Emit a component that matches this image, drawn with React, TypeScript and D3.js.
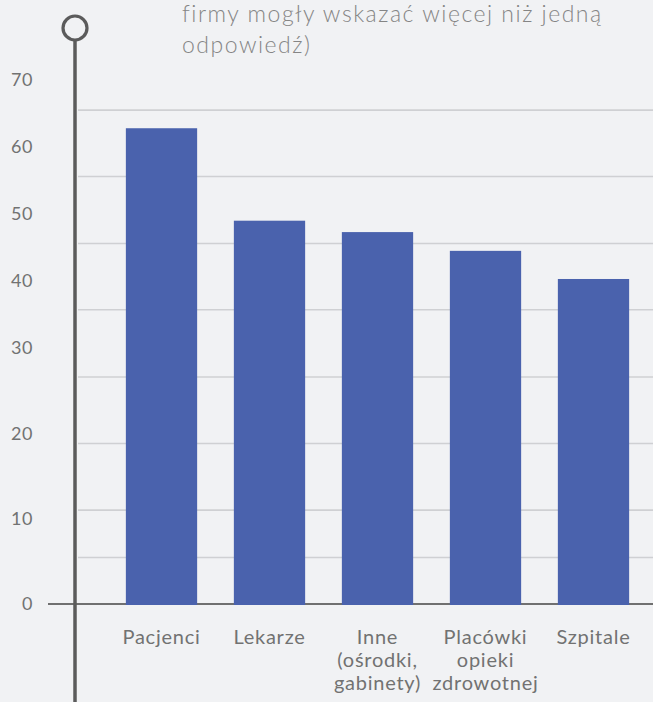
import React from "react";
import * as d3 from "d3";

const categories = ["Pacjenci", "Lekarze", "Inne (ośrodki, gabinety)", "Placówki opieki zdrowotnej", "Szpitale"];
const categoryLines = [["Pacjenci"], ["Lekarze"], ["Inne", "(ośrodki,", "gabinety)"], ["Placówki", "opieki", "zdrowotnej"], ["Szpitale"]];
const values = [62.8, 49.0, 47.3, 44.5, 40.3];
const tickValues = [0, 10, 20, 30, 40, 50, 60, 70];
const gridValues = [5.45, 11.0, 18.8, 26.6, 35.7, 45.6, 55.6, 65.5];
const titleLines = ["firmy mogły wskazać więcej niż jedną", "odpowiedź)"];

const W = 653;
const H = 702;
const BG = "#f1f2f4";
const BAR = "#4a62ad";
const TEXT = "#727272";
const FONT = "Lato, 'Open Sans', sans-serif";

export default function App() {
  const y = d3.scaleLinear().domain([0, 30, 70]).range([604, 348, 80]);
  const x = d3
    .scaleBand<string>()
    .domain(categories)
    .range([107.5, 647.5])
    .paddingInner(0.34)
    .paddingOuter(0.17);
  const axisX = 75;

  return (
    <svg
      width={W}
      height={H}
      style={{ position: "fixed", left: 0, top: 0, display: "block" }}
      fontFamily={FONT}
    >
      <rect x={0} y={0} width={W} height={H} fill={BG} />
      {/* title (continuation) */}
      {titleLines.map((t, i) => (
        <text key={t} x={182} y={22} dy={i * 31} fontSize={23} fontWeight={300} letterSpacing={1.5} fill="#858585">
          {t}
        </text>
      ))}
      {/* gridlines */}
      {gridValues.map((g) => (
        <line key={g} x1={axisX + 3} x2={W} y1={y(g)} y2={y(g)} stroke="#cfd0d3" strokeWidth={1.6} />
      ))}
      {/* baseline */}
      <line x1={48} x2={W} y1={y(0)} y2={y(0)} stroke="#444" strokeWidth={1.6} />
      {/* tick labels */}
      {tickValues.map((t) => (
        <text key={t} x={33} y={y(t)} dy="0.36em" textAnchor="end" fontSize={18} letterSpacing={0.6} fill={TEXT}>
          {t}
        </text>
      ))}
      {/* bars */}
      {categories.map((c, i) => (
        <rect
          key={c}
          x={x(c)}
          y={y(values[i])}
          width={x.bandwidth()}
          height={y(0) - y(values[i]) + 1}
          fill={BAR}
        />
      ))}
      {/* category labels */}
      {categories.map((c, i) => (
        <text key={c} textAnchor="middle" fontSize={20} letterSpacing={0.75} fill={TEXT}>
          {categoryLines[i].map((l, j) => (
            <tspan key={j} x={(x(c) as number) + x.bandwidth() / 2} y={644} dy={j * 23}>
              {l}
            </tspan>
          ))}
        </text>
      ))}
      {/* vertical axis with circle */}
      <line x1={axisX} x2={axisX} y1={41} y2={H} stroke="#5b5b5b" strokeWidth={3.5} />
      <circle cx={axisX} cy={28} r={12} fill={BG} stroke="#5b5b5b" strokeWidth={3.2} />
    </svg>
  );
}
